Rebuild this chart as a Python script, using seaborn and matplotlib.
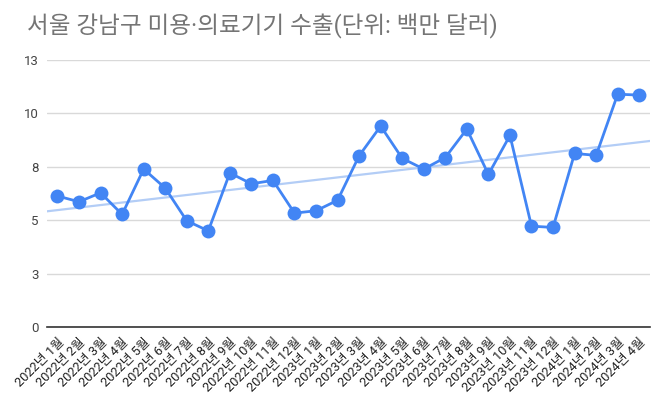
import numpy as np
import pandas as pd
import matplotlib
matplotlib.use("Agg")
import matplotlib.pyplot as plt
import seaborn as sns

# 월별 수출액 (백만 달러), 차트에서 읽은 값
years = [2022] * 12 + [2023] * 12 + [2024] * 4
months = list(range(1, 13)) + list(range(1, 13)) + [1, 2, 3, 4]
exports = [6.14, 5.87, 6.29, 5.28, 7.40, 6.51, 4.98, 4.51, 7.22, 6.71, 6.87, 5.34,
           5.45, 5.94, 8.02, 9.41, 7.90, 7.40, 7.94, 9.27, 7.15, 8.97, 4.73, 4.67,
           8.13, 8.04, 10.90, 10.86]
labels = [f"{y}년 {m}월" for y, m in zip(years, months)]
y_ticks = [0, 2.5, 5, 7.5, 10, 12.5]
y_ticklabels = ["0", "3", "5", "8", "10", "13"]

df = pd.DataFrame({"idx": np.arange(len(exports)), "label": labels, "value": exports})

sns.set_style("white")
plt.rcParams["font.family"] = ["Roboto", "Noto Sans CJK KR", "DejaVu Sans"]

fig = plt.figure(figsize=(6.66, 4.07), dpi=100)
ax = fig.add_axes([46.7 / 666, 1 - 327.3 / 407, (650 - 46.7) / 666, (327.3 - 60) / 407])

# 추세선 (선형)
coef = np.polyfit(df["idx"], df["value"], 1)
tx = np.array([-0.5, len(exports) - 0.5])
trend = pd.DataFrame({"idx": tx, "value": np.polyval(coef, tx)})
sns.lineplot(data=trend, x="idx", y="value", ax=ax, color="#b3cdf6", linewidth=1.6, zorder=2)

sns.lineplot(data=df, x="idx", y="value", ax=ax, color="#4285f4", linewidth=2,
             marker="o", markersize=10, markeredgewidth=0, zorder=3)

ax.set_xlim(-0.5, len(exports) - 0.5)
ax.set_ylim(0, 12.5)
ax.set_yticks(y_ticks)
ax.set_yticklabels(y_ticklabels, color="#444444", fontsize=9.5)
ax.set_xticks(df["idx"])
ax.set_xticklabels(labels, rotation=45, ha="right", rotation_mode="anchor",
                   color="#222222", fontsize=9.3)
ax.tick_params(axis="both", length=0, pad=6)
ax.tick_params(axis="x", pad=6)
ax.grid(axis="y", color="#d9d9d9", linewidth=1)
ax.set_axisbelow(True)
for s in ["top", "right", "left"]:
    ax.spines[s].set_visible(False)
ax.spines["bottom"].set_color("#333333")
ax.spines["bottom"].set_linewidth(1.2)
ax.set_xlabel("")
ax.set_ylabel("")

fig.text(27 / 666, 1 - 26 / 407, "서울 강남구 미용·의료기기 수출(단위: 백만 달러)",
         fontsize=17, color="#757575", va="center", ha="left")

fig.savefig("out.png", dpi=100)
